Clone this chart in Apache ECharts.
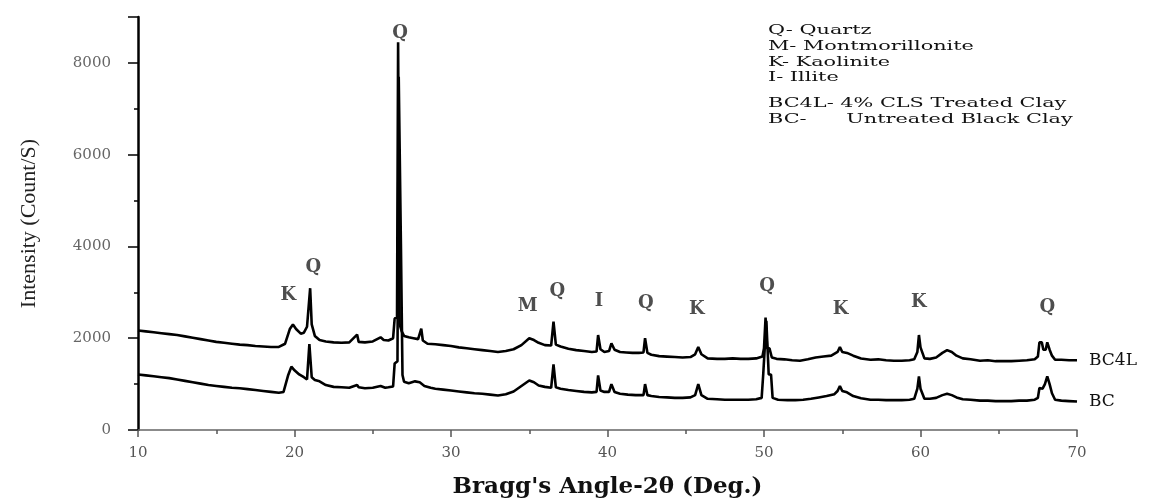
<!DOCTYPE html>
<html>
<head>
<meta charset="utf-8">
<script src="https://cdn.jsdelivr.net/npm/echarts@6/dist/echarts.min.js"></script>
<style>
html,body{margin:0;padding:0;background:#fff;}
#chart{width:1156px;height:504px;}
</style>
</head>
<body>
<div id="chart"></div>
<script>
// ---- Data ----
const bc4lAngle = [10.0,10.5,11.0,11.5,12.0,12.5,13.0,13.5,14.0,14.5,15.0,15.5,16.0,16.5,17.0,17.5,18.0,18.5,19.0,19.4,19.7,19.9,20.1,20.4,20.6,20.8,21.0,21.1,21.3,21.6,22.0,22.5,23.0,23.5,24.0,24.1,24.5,25.0,25.5,25.7,26.0,26.3,26.4,26.55,26.62,26.72,26.85,27.0,27.3,27.6,27.9,28.1,28.2,28.5,29.0,29.5,30.0,30.5,31.0,31.5,32.0,32.5,33.0,33.5,34.0,34.5,35.0,35.3,35.6,36.0,36.4,36.55,36.7,37.0,37.5,38.0,38.5,39.0,39.3,39.4,39.55,39.8,40.1,40.25,40.45,40.8,41.2,41.6,42.0,42.3,42.4,42.55,42.8,43.3,43.8,44.3,44.8,45.3,45.6,45.8,46.0,46.4,47.0,47.5,48.0,48.5,49.0,49.5,49.9,50.0,50.1,50.2,50.35,50.5,50.8,51.3,51.8,52.3,52.8,53.3,53.8,54.3,54.7,54.85,55.0,55.3,55.7,56.2,56.8,57.3,57.8,58.3,58.8,59.3,59.6,59.8,59.9,60.0,60.1,60.25,60.6,61.0,61.4,61.7,62.0,62.3,62.7,63.2,63.8,64.3,64.8,65.3,65.8,66.3,66.8,67.3,67.5,67.6,67.75,67.85,68.0,68.1,68.25,68.4,68.6,69.0,69.5,70.0];
const bc4lIntensity = [2170,2150,2130,2110,2090,2070,2040,2010,1980,1950,1920,1900,1880,1860,1850,1830,1820,1810,1810,1880,2200,2300,2200,2100,2120,2250,3090,2300,2050,1960,1930,1910,1900,1910,2080,1920,1910,1930,2020,1960,1950,2000,2430,2450,8450,2300,2150,2050,2020,2000,1980,2210,1950,1880,1870,1850,1830,1800,1780,1760,1740,1720,1700,1720,1760,1850,2000,1960,1900,1850,1840,2360,1860,1820,1770,1740,1720,1700,1710,2070,1760,1700,1720,1890,1750,1700,1690,1680,1680,1690,2000,1680,1640,1610,1600,1590,1580,1590,1650,1810,1650,1560,1550,1550,1560,1550,1550,1560,1600,1780,2450,1780,1780,1580,1550,1540,1520,1510,1540,1580,1600,1620,1700,1810,1700,1680,1620,1560,1530,1540,1520,1510,1510,1520,1540,1700,2070,1800,1800,1560,1550,1580,1680,1740,1700,1620,1560,1540,1510,1520,1500,1500,1500,1510,1520,1540,1600,1910,1910,1750,1750,1910,1750,1620,1530,1530,1520,1520];

const bcAngle = [10.0,10.5,11.0,11.5,12.0,12.5,13.0,13.5,14.0,14.5,15.0,15.5,16.0,16.5,17.0,17.5,18.0,18.5,19.0,19.3,19.6,19.8,20.0,20.3,20.6,20.8,20.95,21.1,21.3,21.6,22.0,22.5,23.0,23.5,24.0,24.1,24.5,25.0,25.5,25.8,26.0,26.3,26.4,26.58,26.66,26.8,26.9,27.0,27.3,27.7,28.0,28.3,28.7,29.0,29.5,30.0,30.5,31.0,31.5,32.0,32.5,33.0,33.5,34.0,34.5,35.0,35.3,35.6,36.0,36.4,36.55,36.7,37.0,37.5,38.0,38.5,39.0,39.3,39.4,39.55,39.8,40.1,40.25,40.45,40.8,41.3,41.8,42.3,42.4,42.55,42.8,43.3,43.8,44.3,44.8,45.3,45.6,45.8,46.0,46.4,47.0,47.5,48.0,48.5,49.0,49.5,49.85,49.95,50.15,50.3,50.45,50.55,50.9,51.5,52.0,52.5,53.0,53.5,54.0,54.5,54.7,54.85,55.0,55.3,55.7,56.2,56.8,57.3,57.8,58.3,58.8,59.3,59.6,59.8,59.9,60.0,60.1,60.25,60.6,61.0,61.4,61.7,62.0,62.3,62.7,63.2,63.8,64.3,64.8,65.3,65.8,66.3,66.8,67.3,67.5,67.6,67.8,67.95,68.1,68.25,68.4,68.6,69.0,69.5,70.0];
const bcIntensity = [1210,1190,1170,1150,1130,1100,1070,1040,1010,980,960,940,920,910,890,870,850,830,810,830,1200,1380,1300,1210,1150,1100,1870,1150,1090,1060,980,940,930,920,980,930,910,920,960,920,930,950,1450,1500,7700,4050,1200,1050,1020,1060,1040,960,920,900,880,860,840,820,800,790,770,750,780,840,960,1080,1040,970,940,920,1430,930,900,870,850,830,820,830,1190,860,830,830,1000,830,790,770,760,760,1000,760,740,720,710,700,700,710,760,1000,760,680,670,660,660,660,660,670,700,1210,2380,1210,1210,700,660,650,650,660,680,710,740,780,850,960,850,820,740,690,660,660,650,650,650,660,680,900,1170,900,900,680,680,700,760,790,760,710,670,660,640,640,630,630,630,640,640,660,700,915,900,1000,1170,1000,800,660,640,630,620];

// Peak annotations (mineral letters)
const peakLetters = ['K','Q','Q','M','Q','I','Q','K','Q','K','K','Q'];
const peakAngles  = [19.6,21.2,26.75,34.9,36.8,39.45,42.45,45.7,50.2,54.9,59.9,68.1];
const peakLabelIntensity = [2940,3550,8640,2700,3020,2810,2750,2620,3130,2620,2790,2680];

// Key text
const keyLines = ['Q- Quartz','M- Montmorillonite','K- Kaolinite','I- Illite','BC4L- 4% CLS Treated Clay','BC-      Untreated Black Clay'];

// Axis settings
const xMin = 10, xMax = 70, xStep = 10;
const yMin = 0, yMax = 9000, yStep = 2000;

const serif = '"DejaVu Serif", "Liberation Serif", serif';
const times = '"Liberation Serif", "Times New Roman", serif';

function pairs(xs, ys){ return xs.map((x,i)=>[x, ys[i]]); }

const chart = echarts.init(document.getElementById('chart'), null, {renderer:'canvas'});

const keyTop = [31,47,63,78,104,120];
const graphics = keyLines.map((t,i)=>({
  type:'text', x: 768, y: keyTop[i], scaleX: 1.6, silent:true,
  style:{ text:t, font:'13px ' + serif, fill:'#111', verticalAlign:'middle' }
}));

chart.setOption({
  animation:false,
  backgroundColor:'#fff',
  grid:{ left:138, right:79, top:17, bottom:64, containLabel:false },
  xAxis:{
    type:'value', min:xMin, max:xMax, interval:xStep,
    name:"Bragg's Angle-2θ (Deg.)", nameLocation:'middle', nameGap:46,
    nameTextStyle:{ fontFamily:serif, fontWeight:'bold', fontSize:23, color:'#111' },
    axisLine:{ lineStyle:{ color:'#666', width:1.5 } },
    axisTick:{ show:true, inside:false, length:7, lineStyle:{ color:'#555', width:1.5 } },
    minorTick:{ show:true, splitNumber:2, length:4, lineStyle:{ color:'#555', width:1.5 } },
    axisLabel:{ fontFamily:serif, fontSize:15, color:'#555', margin:16 },
    splitLine:{ show:false }
  },
  yAxis:{
    type:'value', min:yMin, max:yMax, interval:yStep,
    name:'Intensity (Count/S)', nameLocation:'middle', nameGap:98, nameRotate:90,
    nameTextStyle:{ fontFamily:times, fontSize:22, color:'#222' },
    axisLine:{ show:true, lineStyle:{ color:'#000', width:2.5 } },
    axisTick:{ show:true, inside:false, length:10, lineStyle:{ color:'#000', width:1.5 } },
    minorTick:{ show:true, splitNumber:2, length:4, lineStyle:{ color:'#000', width:1.5 } },
    axisLabel:{ fontFamily:serif, fontSize:15, color:'#666', margin:27, showMaxLabel:false,
      formatter:(v)=>String(v) },
    splitLine:{ show:false }
  },
  graphic: graphics,
  series:[
    {
      name:'BC4L', type:'line', data:pairs(bc4lAngle, bc4lIntensity),
      showSymbol:false, symbol:'none', lineStyle:{ color:'#000', width:2.6 }, silent:true,
      endLabel:{ show:true, formatter:'{a}', distance:12, fontFamily:serif, fontSize:17, color:'#111' }
    },
    {
      name:'BC', type:'line', data:pairs(bcAngle, bcIntensity),
      showSymbol:false, symbol:'none', lineStyle:{ color:'#000', width:2.6 }, silent:true,
      endLabel:{ show:true, formatter:'{a}', distance:12, fontFamily:serif, fontSize:17, color:'#111' }
    },
    {
      name:'peaks', type:'scatter', symbolSize:0, silent:true,
      data: peakAngles.map((a,i)=>({ value:[a, peakLabelIntensity[i]], name:peakLetters[i] })),
      label:{ show:true, position:'inside', formatter:'{b}', fontFamily:serif, fontWeight:'bold', fontSize:18, color:'#222' }
    }
  ]
});
</script>
</body>
</html>
